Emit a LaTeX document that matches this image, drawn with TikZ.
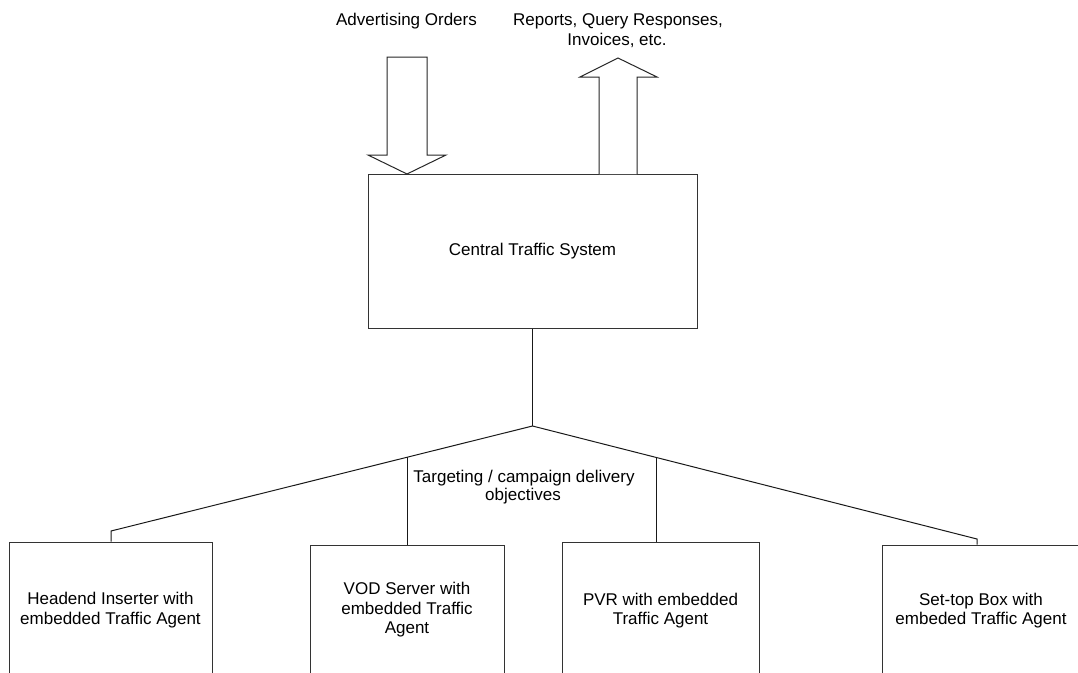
\documentclass[tikz,border=0pt]{standalone}
\usepackage{fontspec}
\setmainfont{Liberation Sans}
\begin{document}
\begin{tikzpicture}[x=1pt,y=-1pt,
  every node/.style={font=\fontsize{17}{19.5}\selectfont, inner sep=0pt},
  box/.style={draw=black!80, line width=1pt, align=center},
  wire/.style={draw=black!90, line width=1pt},
  blockarrow/.style={draw=black!85, line width=1pt, fill=white, line join=miter}]
\useasboundingbox (0,0) rectangle (1078,672);
\clip (0,0) rectangle (1078,672);
\fill[white] (0,0) rectangle (1078,672);

% central system
\node[box, minimum width=329pt, minimum height=154pt] (cts) at (532.5,251) {Central Traffic System};

% agents
\node[box, minimum width=203pt, minimum height=136pt] (he)  at (110.5,610)  {Headend Inserter with\\embedded Traffic Agent};
\node[box, minimum width=194pt, minimum height=130pt] (vod) at (407,610)    {VOD Server with\\embedded Traffic\\Agent};
\node[box, minimum width=197pt, minimum height=137pt] (pvr) at (660.5,610.5){PVR with embedded\\Traffic Agent};
\node[box, minimum width=198pt, minimum height=131pt] (stb) at (981,610.5)  {Set-top Box with\\embeded Traffic Agent};

% tree connectors
\coordinate (hub) at (532.5,426);
\coordinate (hl)  at (111,531);
\coordinate (hr)  at (977,539);
\coordinate (vj)  at (407,457.3);
\coordinate (pj)  at (656,457.3);
\draw[wire] (cts.south) -- (hub);
\draw[wire] (he.north -| hl) -- (hl) -- (hub) -- (hr) -- (stb.north -| hr);
\draw[wire] (vj) -- (vod.north -| vj);
\draw[wire] (pj) -- (pvr.north -| pj);

% block arrows
\draw[blockarrow] (387,57) -- (427,57) -- (427,155) -- (446,155) -- (407,174) -- (368,155) -- (387,155) -- cycle;
\draw[blockarrow] (599,174) -- (599,77) -- (580,77) -- (618,58) -- (657,77) -- (637,77) -- (637,174);

% labels
\node[anchor=base] (ao)  at (406.5,25) {Advertising Orders};
\node[anchor=base] (rq1) at (618,25)   {Reports, Query Responses,};
\node[anchor=base] (rq2) at (617,45)   {Invoices, etc.};
\node[anchor=base] (tg1) at (524,482)  {Targeting / campaign delivery};
\node[anchor=base] (tg2) at (523,500.5){objectives};
\end{tikzpicture}
\end{document}
